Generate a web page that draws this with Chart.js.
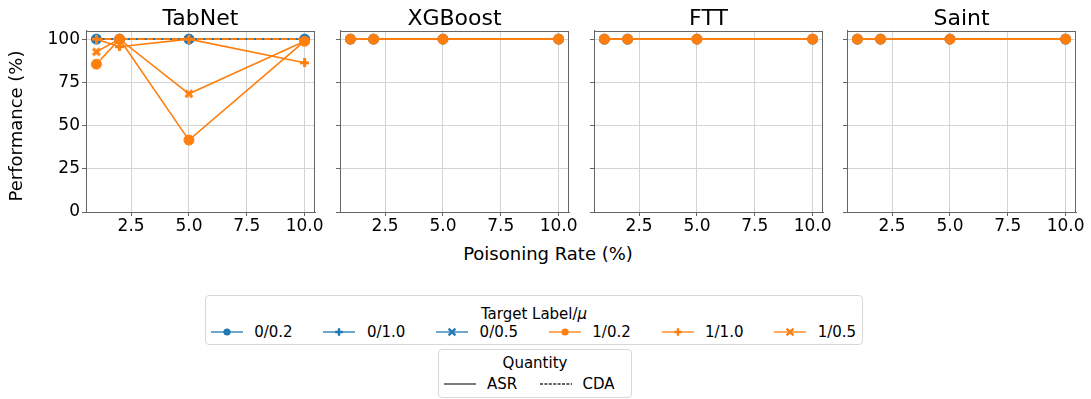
<!DOCTYPE html>
<html>
<head>
<meta charset="utf-8">
<script src="https://cdn.jsdelivr.net/npm/chart.js@4.4.0/dist/chart.umd.min.js"></script>
<style>
html,body{margin:0;padding:0;background:#fff;}
body{width:1091px;height:399px;position:relative;overflow:hidden;font-family:"DejaVu Sans",sans-serif;color:#000;}
.panel{position:absolute;top:0;}
.lbl{position:absolute;white-space:nowrap;text-align:center;}
.legend{position:absolute;border:1px solid #d8d8d8;border-radius:4px;box-sizing:border-box;background:#fff;}
.legend .ttl{position:absolute;left:0;right:0;text-align:center;font-size:15px;line-height:20px;}
.legend .it{position:absolute;font-size:15px;line-height:20px;white-space:nowrap;}
.legend svg{position:absolute;}
</style>
</head>
<body>
<div id="charts"></div>
<div class="lbl" id="ylab" style="left:-84px;top:114px;width:200px;height:24px;line-height:24px;font-size:18px;transform:rotate(-90deg);">Performance (%)</div>
<div class="lbl" id="xlab" style="left:448px;top:242px;width:200px;height:24px;line-height:24px;font-size:18px;">Poisoning Rate (%)</div>
<div class="legend" id="leg1" style="left:205px;top:295px;width:658px;height:50px;">
  <div class="ttl" style="top:8px;">Target Label/<i>μ</i></div>
</div>
<div class="legend" id="leg2" style="left:438px;top:349px;width:194px;height:49px;">
  <div class="ttl" style="top:3px;">Quantity</div>
</div>
<script>
// ---------------- data ----------------
const xRates = [1, 2, 5, 10];
const xTickValues = [2.5, 5, 7.5, 10];
const xTickLabels = ['2.5', '5.0', '7.5', '10.0'];
const yTickValues = [0, 25, 50, 75, 100];
const yTickLabels = ['0', '25', '50', '75', '100'];
const modelNames = ['TabNet', 'XGBoost', 'FTT', 'Saint'];
const targetLabels = ['0/0.2', '0/1.0', '0/0.5', '1/0.2', '1/1.0', '1/0.5'];
const quantityNames = ['ASR', 'CDA'];

// rows follow targetLabels order
const tabnetASR = [
  [100, 100, 100, 100],
  [100, 100, 100, 100],
  [100, 100, 100, 100],
  [85.5, 100, 41.6, 98.8],
  [100, 95.6, 100, 86.3],
  [92.7, 100, 68.4, 98.8]
];
const tabnetCDA = [
  [100, 100, 100, 100],
  [100, 100, 100, 100],
  [100, 100, 100, 100],
  [100, 100, 100, 100],
  [100, 100, 100, 100],
  [100, 100, 100, 100]
];
const xgboostASR = [
  [100, 100, 100, 100],
  [100, 100, 100, 100],
  [100, 100, 100, 100],
  [100, 100, 100, 100],
  [100, 100, 100, 100],
  [100, 100, 100, 100]
];
const xgboostCDA = [
  [100, 100, 100, 100],
  [100, 100, 100, 100],
  [100, 100, 100, 100],
  [100, 100, 100, 100],
  [100, 100, 100, 100],
  [100, 100, 100, 100]
];
const fttASR = [
  [100, 100, 100, 100],
  [100, 100, 100, 100],
  [100, 100, 100, 100],
  [100, 100, 100, 100],
  [100, 100, 100, 100],
  [100, 100, 100, 100]
];
const fttCDA = [
  [100, 100, 100, 100],
  [100, 100, 100, 100],
  [100, 100, 100, 100],
  [100, 100, 100, 100],
  [100, 100, 100, 100],
  [100, 100, 100, 100]
];
const saintASR = [
  [100, 100, 100, 100],
  [100, 100, 100, 100],
  [100, 100, 100, 100],
  [100, 100, 100, 100],
  [100, 100, 100, 100],
  [100, 100, 100, 100]
];
const saintCDA = [
  [100, 100, 100, 100],
  [100, 100, 100, 100],
  [100, 100, 100, 100],
  [100, 100, 100, 100],
  [100, 100, 100, 100],
  [100, 100, 100, 100]
];
const modelASR = [tabnetASR, xgboostASR, fttASR, saintASR];
const modelCDA = [tabnetCDA, xgboostCDA, fttCDA, saintCDA];

// ---------------- style ----------------
const BLUE = '#1f77b4', ORANGE = '#ff7f0e';
const labelColors = [BLUE, BLUE, BLUE, ORANGE, ORANGE, ORANGE];
const labelMarkers = ['circle', 'plus', 'x', 'circle', 'plus', 'x'];
const FONT = '"DejaVu Sans", sans-serif';

function markerCanvas(shape, color, S) {
  const c = document.createElement('canvas');
  c.width = S; c.height = S;
  const g = c.getContext('2d');
  g.fillStyle = color; g.strokeStyle = color;
  if (shape === 'plus') {
    const a = S / 6;
    g.fillRect(S / 2 - a, 0, 2 * a, S);
    g.fillRect(0, S / 2 - a, S, 2 * a);
  } else {
    g.lineWidth = S / 3.3;
    g.lineCap = 'butt';
    const p = S * 0.16;
    g.beginPath();
    g.moveTo(p, p); g.lineTo(S - p, S - p);
    g.moveTo(S - p, p); g.lineTo(p, S - p);
    g.stroke();
  }
  return c;
}
const markerImgs = {};
[BLUE, ORANGE].forEach(col => {
  markerImgs[col + 'plus'] = markerCanvas('plus', col, 9);
  markerImgs[col + 'x'] = markerCanvas('x', col, 10);
});

// panel geometry
const AX_LEFT0 = 86, AX_STEP = 253.8, AX_W = 229, YW = 60, RP = 30;
const CANVAS_H = 242, XH = 30;

const framePlugin = {
  id: 'frame',
  afterDatasetsDraw(chart) {
    const a = chart.chartArea, g = chart.ctx;
    g.save();
    g.strokeStyle = '#666';
    g.lineWidth = 1;
    g.strokeRect(Math.round(a.left) + 0.5, Math.round(a.top) + 0.5, Math.round(a.right - a.left) - 1, Math.round(a.bottom - a.top) - 1);
    g.restore();
  }
};

function buildDatasets(m) {
  const ds = [];
  for (let k = 0; k < targetLabels.length; k++) {
    const col = labelColors[k], mk = labelMarkers[k];
    const ps = mk === 'circle' ? 'circle' : markerImgs[col + mk];
    [modelASR[m][k], modelCDA[m][k]].forEach((vals, q) => {
      ds.push({
        label: targetLabels[k] + ' ' + quantityNames[q],
        data: xRates.map((x, j) => ({x: x, y: vals[j]})),
        borderColor: col,
        backgroundColor: col,
        borderWidth: 1.6,
        borderDash: q === 1 ? [6, 2.4] : [],
        pointStyle: ps,
        pointRadius: q === 1 ? 0 : 5,
        pointBorderWidth: 1,
        pointBorderColor: col,
        pointBackgroundColor: col,
        tension: 0,
        fill: false
      });
    });
  }
  // paint order (bottom -> top): blue ASR, blue CDA, orange ASR, orange CDA
  const paint = [0, 2, 4, 1, 3, 5, 6, 8, 10, 7, 9, 11];
  // Chart.js paints the first dataset last (on top), so reverse
  return paint.map(i => ds[i]).reverse();
}

const holder = document.getElementById('charts');
modelNames.forEach((name, m) => {
  const left = Math.round(AX_LEFT0 + m * AX_STEP);
  const div = document.createElement('div');
  div.className = 'panel';
  div.style.left = (left - YW) + 'px';
  const cv = document.createElement('canvas');
  const W = YW + AX_W + RP;
  cv.width = W; cv.height = CANVAS_H;
  cv.style.width = W + 'px'; cv.style.height = CANVAS_H + 'px';
  div.appendChild(cv);
  holder.appendChild(div);
  new Chart(cv, {
    type: 'line',
    data: {datasets: buildDatasets(m)},
    options: {
      responsive: false,
      maintainAspectRatio: false,
      animation: false,
      events: [],
      layout: {padding: {left: 0, right: RP, top: 0, bottom: 0}},
      plugins: {
        legend: {display: false},
        tooltip: {enabled: false},
        title: {
          display: true, text: name, fullSize: false, color: '#000',
          font: {family: FONT, size: 22, weight: 'normal', lineHeight: 1},
          padding: {top: 8, bottom: 0.5}
        }
      },
      scales: {
        x: {
          type: 'linear', min: 0.55, max: 10.45,
          afterBuildTicks: s => { s.ticks = xTickValues.map(v => ({value: v})); },
          afterFit: s => { s.height = XH; },
          ticks: {
            callback: v => xTickLabels[xTickValues.indexOf(v)],
            color: '#000', font: {family: FONT, size: 17, lineHeight: 1}, padding: 2,
            maxRotation: 0, autoSkip: false
          },
          grid: {color: '#d4d4d4', lineWidth: 1, tickColor: '#666', tickLength: 4, drawTicks: true},
          border: {display: true, color: '#666', width: 1}
        },
        y: {
          type: 'linear', min: 0, max: 105,
          afterBuildTicks: s => { s.ticks = yTickValues.map(v => ({value: v})); },
          afterFit: s => { s.width = YW; },
          ticks: {
            callback: v => (m === 0 ? yTickLabels[yTickValues.indexOf(v)] : ''),
            color: '#000', font: {family: FONT, size: 17, lineHeight: 1}, padding: 2, autoSkip: false
          },
          grid: {color: '#d4d4d4', lineWidth: 1, tickColor: '#666', tickLength: 4, drawTicks: true},
          border: {display: true, color: '#666', width: 1}
        }
      }
    },
    plugins: [framePlugin]
  });
});

// ---------------- legends ----------------
const NS = 'http://www.w3.org/2000/svg';
function legendIcon(parent, x, y, color, marker, dashed) {
  const svg = document.createElementNS(NS, 'svg');
  svg.setAttribute('width', 34); svg.setAttribute('height', 12);
  svg.style.left = x + 'px'; svg.style.top = (y - 6) + 'px';
  const ln = document.createElementNS(NS, 'line');
  ln.setAttribute('x1', 1); ln.setAttribute('x2', 33); ln.setAttribute('y1', 6); ln.setAttribute('y2', 6);
  ln.setAttribute('stroke', color); ln.setAttribute('stroke-width', 1.3);
  if (dashed) ln.setAttribute('stroke-dasharray', '3 1.4');
  svg.appendChild(ln);
  if (marker === 'circle') {
    const c = document.createElementNS(NS, 'circle');
    c.setAttribute('cx', 17); c.setAttribute('cy', 6); c.setAttribute('r', 3.6); c.setAttribute('fill', color);
    svg.appendChild(c);
  } else if (marker === 'plus') {
    const p = document.createElementNS(NS, 'path');
    p.setAttribute('d', 'M15.8 2.2h2.4v2.6h2.6v2.4h-2.6v2.6h-2.4v-2.6h-2.6v-2.4h2.6z');
    p.setAttribute('fill', color);
    svg.appendChild(p);
  } else if (marker === 'x') {
    const p = document.createElementNS(NS, 'path');
    p.setAttribute('d', 'M13.6 2.6L20.4 9.4M20.4 2.6L13.6 9.4');
    p.setAttribute('stroke', color); p.setAttribute('stroke-width', 2.2);
    svg.appendChild(p);
  }
  parent.appendChild(svg);
}
function legendText(parent, x, y, txt) {
  const d = document.createElement('div');
  d.className = 'it';
  d.style.left = x + 'px'; d.style.top = (y - 10) + 'px';
  d.textContent = txt;
  parent.appendChild(d);
}
const leg1 = document.getElementById('leg1');
targetLabels.forEach((t, k) => {
  const x0 = 4.7 + k * 112.7;
  legendIcon(leg1, x0 - 1, 36, labelColors[k], labelMarkers[k], false);
  legendText(leg1, x0 + 43.5, 36, t);
});
const leg2 = document.getElementById('leg2');
quantityNames.forEach((t, q) => {
  const x0 = 5 + q * 95.5;
  legendIcon(leg2, x0 - 1, 33.5, '#333', null, q === 1);
  legendText(leg2, x0 + 43, 33.5, t);
});
</script>
</body>
</html>
